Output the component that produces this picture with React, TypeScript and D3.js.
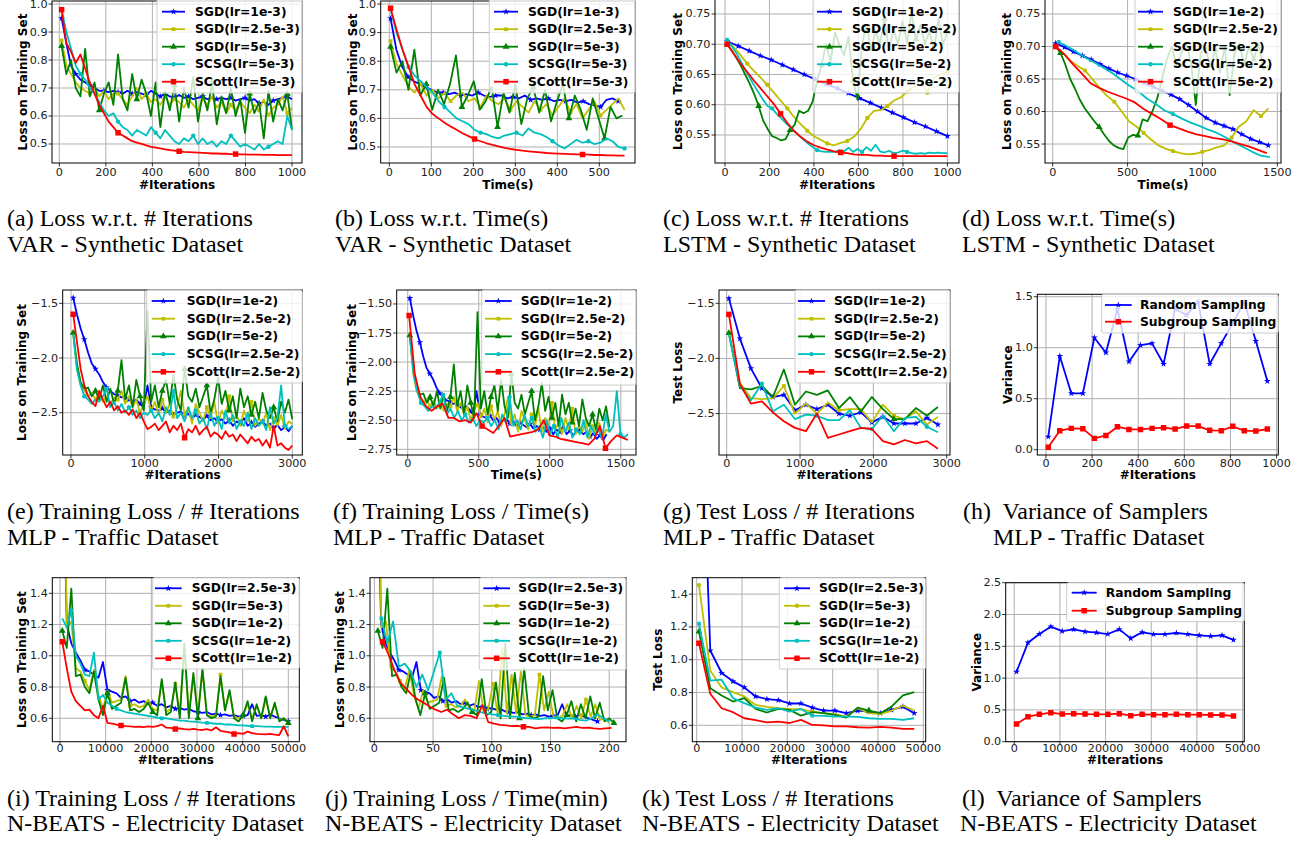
import React from 'react';
import * as d3 from 'd3';

const BLUE = '#0000ff', YEL = '#bfbf00', GRN = '#008000', CYN = '#00bfbf', RED = '#ff0000';
const lin = (a: number, b: number, n: number) => d3.range(n).map(i => a + (b - a) * i / (n - 1));

// ---------- (a) VAR, loss vs iterations ----------
const xA = lin(10, 1000, 50);
const aBlue = [0.95,0.86,0.78,0.75,0.73,0.72,0.71,0.70,0.69,0.69, 0.685,0.69,0.685,0.68,0.69,0.68,0.685,0.68,0.675,0.69, 0.68,0.67,0.68,0.67,0.665,0.675,0.665,0.67,0.66,0.665, 0.67,0.66,0.665,0.66,0.665,0.66,0.665,0.655,0.66,0.665, 0.655,0.66,0.645,0.65,0.64,0.655,0.66,0.665,0.67,0.66];
const aYel = [0.87,0.78,0.75,0.72,0.70,0.69,0.68,0.70,0.67,0.69, 0.66,0.68,0.68,0.66,0.64,0.67,0.70,0.66,0.68,0.65, 0.66,0.64,0.67,0.64,0.66,0.65,0.63,0.66,0.64,0.62, 0.66,0.64,0.67,0.63,0.65,0.61,0.64,0.62,0.65,0.63, 0.61,0.64,0.62,0.66,0.60,0.63,0.64,0.67,0.61,0.63];
const aGrn = [0.85,0.75,0.80,0.70,0.67,0.84,0.67,0.72,0.62,0.68, 0.72,0.64,0.82,0.66,0.62,0.75,0.66,0.73,0.68,0.60, 0.72,0.56,0.69,0.62,0.71,0.58,0.70,0.63,0.74,0.58, 0.68,0.62,0.72,0.57,0.67,0.61,0.70,0.60,0.66,0.54, 0.68,0.61,0.65,0.52,0.69,0.58,0.66,0.62,0.68,0.55];
const aCyn = [0.98,0.90,0.84,0.78,0.75,0.73,0.70,0.68,0.65,0.62, 0.60,0.61,0.58,0.56,0.55,0.53,0.55,0.54,0.53,0.56, 0.54,0.52,0.55,0.53,0.51,0.50,0.52,0.51,0.53,0.50, 0.52,0.50,0.51,0.49,0.51,0.50,0.53,0.51,0.49,0.50, 0.49,0.48,0.50,0.48,0.49,0.50,0.51,0.50,0.60,0.55];
const aRed = [0.98,0.86,0.83,0.79,0.82,0.77,0.72,0.68,0.64,0.61, 0.58,0.56,0.54,0.53,0.52,0.51,0.505,0.50,0.495,0.49, 0.487,0.484,0.481,0.478,0.476,0.474,0.472,0.471,0.47,0.469, 0.468,0.467,0.466,0.466,0.465,0.465,0.464,0.464,0.463,0.463, 0.462,0.462,0.462,0.461,0.461,0.461,0.46,0.46,0.46,0.46];

// ---------- (b) VAR, loss vs time ----------
const bBlue = [0.95,0.84,0.78,0.745,0.73,0.72,0.71,0.70,0.69,0.69, 0.685,0.69,0.68,0.685,0.68,0.69,0.68,0.675,0.68,0.68, 0.67,0.675,0.67,0.68,0.665,0.67,0.665,0.67,0.66,0.665, 0.66,0.665,0.655,0.66,0.65,0.645,0.64,0.665,0.67,0.66];
const bYel = [0.87,0.79,0.75,0.71,0.69,0.72,0.68,0.70,0.67,0.69, 0.66,0.68,0.69,0.66,0.67,0.64,0.68,0.66,0.65,0.67, 0.63,0.66,0.64,0.62,0.66,0.63,0.65,0.61,0.64,0.67, 0.62,0.65,0.60,0.63,0.66,0.61,0.63,0.65,0.67,0.63];
const bGrn = [0.85,0.76,0.80,0.70,0.84,0.68,0.72,0.63,0.70,0.65, 0.72,0.82,0.64,0.68,0.73,0.63,0.66,0.71,0.57,0.69, 0.62,0.72,0.58,0.67,0.71,0.62,0.70,0.59,0.66,0.72, 0.60,0.68,0.63,0.56,0.67,0.60,0.53,0.64,0.60,0.61];
const bCyn = [0.98,0.90,0.84,0.78,0.75,0.73,0.71,0.69,0.66,0.64, 0.62,0.60,0.59,0.58,0.56,0.55,0.545,0.535,0.53,0.54, 0.545,0.55,0.54,0.565,0.55,0.545,0.535,0.52,0.505,0.495, 0.51,0.525,0.515,0.52,0.51,0.515,0.53,0.52,0.50,0.495];
const bRed = [0.985,0.91,0.84,0.78,0.72,0.68,0.64,0.615,0.60,0.585, 0.572,0.56,0.548,0.538,0.528,0.52,0.513,0.507,0.502,0.497, 0.493,0.49,0.487,0.485,0.483,0.481,0.479,0.478,0.477,0.476, 0.475,0.474,0.474,0.473,0.472,0.472,0.471,0.471,0.47,0.47];

// ---------- (c) LSTM, loss vs iterations ----------
const cBlue = [0.705,0.697,0.689,0.681,0.674,0.666,0.658,0.650,0.642,0.634,0.627,0.619,0.611,0.603,0.595,0.587,0.579,0.571,0.564,0.556,0.548];
const cYel = [0.705,0.695,0.682,0.668,0.656,0.645,0.633,0.620,0.607,0.594, 0.580,0.568,0.557,0.548,0.542,0.536,0.533,0.537,0.540,0.547, 0.560,0.578,0.590,0.591,0.598,0.607,0.612,0.622,0.630,0.640, 0.620,0.645,0.650,0.655];
const cGrn = [0.700,0.690,0.678,0.665,0.650,0.635,0.618,0.598,0.574,0.560, 0.548,0.545,0.541,0.543,0.558,0.567,0.590,0.586,0.590,0.605, 0.640,0.665,0.700,0.672,0.720,0.698,0.682,0.712,0.640,0.608, 0.700,0.732,0.690,0.722,0.700,0.742,0.690,0.725,0.700,0.738, 0.702,0.752,0.708,0.732,0.700,0.722,0.690,0.742,0.700,0.720];
const cCyn = [0.707,0.697,0.686,0.672,0.658,0.645,0.632,0.620,0.608,0.598, 0.594,0.585,0.578,0.570,0.563,0.556,0.549,0.542,0.536,0.530, 0.525,0.523,0.522,0.522,0.522,0.525,0.523,0.529,0.522,0.527, 0.522,0.530,0.524,0.534,0.523,0.521,0.524,0.520,0.521,0.524, 0.522,0.520,0.519,0.520,0.519,0.521,0.520,0.521,0.520,0.520];
const cRed = [0.700,0.684,0.668,0.654,0.640,0.627,0.614,0.601,0.585,0.570, 0.557,0.547,0.539,0.533,0.529,0.526,0.523,0.521,0.520,0.518, 0.517,0.517,0.516,0.516,0.515,0.515,0.515,0.515,0.515,0.515, 0.515,0.515,0.515,0.515];

// ---------- (d) LSTM, loss vs time ----------
const dBlue = [0.705,0.699,0.692,0.686,0.680,0.673,0.666,0.660,0.655,0.650, 0.644,0.638,0.632,0.626,0.619,0.610,0.600,0.590,0.583,0.578, 0.573,0.565,0.558,0.553,0.548];
const dYel = [0.700,0.690,0.678,0.670,0.663,0.650,0.636,0.624,0.615,0.600, 0.585,0.577,0.567,0.557,0.548,0.543,0.539,0.536,0.534,0.535, 0.538,0.541,0.545,0.548,0.560,0.577,0.585,0.602,0.593,0.605];
const dGrn = [0.700,0.690,0.672,0.650,0.635,0.618,0.605,0.595,0.585,0.576, 0.565,0.555,0.548,0.544,0.542,0.560,0.564,0.563,0.588,0.585, 0.600,0.620,0.650,0.680,0.700,0.672,0.690,0.705,0.675,0.610, 0.690,0.700,0.668,0.695,0.660,0.700,0.625,0.690,0.705,0.672, 0.700,0.680,0.705,0.665,0.670];
const dCyn = [0.707,0.700,0.692,0.683,0.676,0.668,0.660,0.650,0.640,0.632, 0.620,0.612,0.602,0.596,0.589,0.583,0.578,0.572,0.567,0.560, 0.552,0.545,0.538,0.532,0.530];
const dRed = [0.700,0.688,0.672,0.658,0.643,0.636,0.630,0.625,0.620,0.614, 0.604,0.596,0.588,0.579,0.574,0.569,0.565,0.562,0.559,0.557, 0.554,0.550,0.546,0.541,0.536];

// ---------- (e)/(f) MLP training loss ----------
const xE = lin(30, 3000, 60);
const eBlue = [-1.45,-1.60,-1.73,-1.83,-1.95,-2.05,-2.10,-2.15,-2.22,-2.27, -2.30,-2.33,-2.34,-2.36,-2.35,-2.38,-2.40,-2.38,-2.42,-2.45, -2.25,-2.45,-2.47,-2.48,-2.46,-2.50,-2.48,-2.52,-2.50,-2.49, -2.53,-2.51,-2.55,-2.52,-2.54,-2.56,-2.53,-2.57,-2.55,-2.58, -2.56,-2.60,-2.57,-2.62,-2.58,-2.60,-2.55,-2.62,-2.59,-2.63, -2.60,-2.58,-2.62,-2.60,-2.64,-2.61,-2.66,-2.63,-2.67,-2.62];
const eYel = [-1.77,-2.10,-2.25,-2.30,-2.35,-2.32,-2.38,-2.33,-2.40,-2.35, -2.42,-2.36,-2.38,-2.30,-2.42,-2.35,-2.45,-2.38,-2.50,-2.42, -2.35,-2.48,-2.40,-2.52,-2.38,-2.50,-2.42,-2.55,-2.45,-2.30, -2.52,-2.45,-2.60,-2.42,-2.50,-2.58,-2.45,-2.55,-2.40,-2.60, -2.48,-2.55,-2.35,-2.58,-2.52,-2.62,-2.48,-2.58,-2.40,-2.62, -2.55,-2.60,-2.50,-2.66,-2.55,-2.62,-2.52,-2.65,-2.58,-2.60];
const eGrn = [-1.77,-2.05,-2.22,-2.28,-2.27,-2.35,-2.30,-2.38,-2.25,-2.40, -2.28,-2.42,-2.30,-2.02,-2.38,-2.25,-2.45,-2.20,-2.35,-2.48, -1.57,-2.40,-2.25,-2.45,-2.30,-2.20,-2.42,-2.15,-2.38,-2.48, -2.10,-2.35,-2.40,-2.28,-2.45,-2.35,-2.25,-2.50,-2.38,-2.18, -2.42,-2.30,-2.48,-2.35,-2.55,-2.28,-2.45,-2.35,-2.52,-2.40, -2.55,-2.32,-2.48,-2.55,-2.45,-2.58,-2.40,-2.50,-2.38,-2.56];
const eCyn = [-1.78,-2.10,-2.25,-2.35,-2.38,-2.42,-2.38,-2.40,-2.35,-2.28, -2.45,-2.40,-2.48,-2.42,-2.50,-2.45,-2.52,-2.48,-2.55,-2.50, -2.52,-2.48,-2.55,-2.50,-2.58,-2.45,-2.52,-2.30,-2.55,-2.50, -2.58,-2.45,-2.55,-2.48,-2.60,-2.55,-2.65,-2.50,-2.62,-2.55, -2.65,-2.48,-2.60,-2.52,-2.65,-2.58,-2.62,-2.50,-2.65,-2.55, -2.62,-2.58,-2.66,-2.45,-2.60,-2.55,-2.25,-2.62,-2.65,-2.62];
const eRed = [-1.60,-1.85,-2.10,-2.25,-2.35,-2.40,-2.44,-2.30,-2.38,-2.45, -2.40,-2.48,-2.44,-2.50,-2.48,-2.52,-2.47,-2.55,-2.50,-2.58, -2.65,-2.63,-2.60,-2.66,-2.62,-2.58,-2.68,-2.62,-2.66,-2.60, -2.73,-2.65,-2.68,-2.62,-2.70,-2.66,-2.63,-2.72,-2.68,-2.70, -2.74,-2.67,-2.72,-2.70,-2.76,-2.70,-2.74,-2.78,-2.72,-2.76, -2.74,-2.80,-2.75,-2.82,-2.62,-2.80,-2.78,-2.82,-2.84,-2.80];
const fRed = [-1.60,-2.10,-2.30,-2.38,-2.42,-2.38,-2.36,-2.48,-2.48,-2.51, -2.50,-2.52,-2.44,-2.55,-2.58,-2.61,-2.55,-2.48,-2.64,-2.63, -2.62,-2.61,-2.60,-2.58,-2.50,-2.63,-2.64,-2.66,-2.67,-2.68, -2.69,-2.70,-2.71,-2.66,-2.55,-2.74,-2.68,-2.63,-2.65,-2.67];

// ---------- (g) MLP test loss ----------
const xG = lin(30, 2880, 20);
const gBlue = [-1.455,-1.82,-2.09,-2.27,-2.35,-2.33,-2.47,-2.42,-2.46,-2.42,-2.50,-2.52,-2.49,-2.58,-2.53,-2.59,-2.59,-2.59,-2.54,-2.60];
const gYel = [-1.77,-2.22,-2.36,-2.37,-2.36,-2.25,-2.50,-2.41,-2.50,-2.40,-2.47,-2.46,-2.46,-2.58,-2.42,-2.52,-2.55,-2.48,-2.60,-2.53];
const gGrn = [-1.77,-2.27,-2.28,-2.25,-2.35,-2.10,-2.42,-2.30,-2.33,-2.29,-2.45,-2.35,-2.48,-2.35,-2.46,-2.55,-2.55,-2.45,-2.52,-2.44];
const gCyn = [-1.78,-2.25,-2.38,-2.23,-2.48,-2.42,-2.55,-2.51,-2.52,-2.56,-2.56,-2.47,-2.63,-2.64,-2.52,-2.66,-2.54,-2.53,-2.62,-2.67];
const gRed = [-1.60,-2.23,-2.41,-2.39,-2.49,-2.57,-2.63,-2.66,-2.50,-2.72,-2.69,-2.66,-2.63,-2.64,-2.75,-2.78,-2.74,-2.77,-2.75,-2.82];

// ---------- (h) MLP variance ----------
const xH = lin(10, 960, 20);
const hRand = [0.127,0.918,0.552,0.552,1.098,0.951,1.379,0.863,1.026,1.042,0.84,1.38,1.32,1.45,0.84,1.042,1.24,1.45,1.065,0.673];
const hSub = [0.023,0.186,0.209,0.206,0.111,0.14,0.225,0.199,0.199,0.209,0.216,0.203,0.232,0.232,0.19,0.186,0.229,0.186,0.183,0.203];

// ---------- (i)/(j) N-BEATS training loss ----------
const xI = lin(500, 50000, 51);
const iBlue = [2.5,1.20,1.08,1.02,0.97,0.91,0.90,0.88,0.86,0.96, 0.78,0.77,0.76,0.73,0.74,0.71,0.72,0.70,0.71,0.69, 0.70,0.68,0.69,0.67,0.68,0.66,0.665,0.655,0.66,0.645, 0.64,0.635,0.64,0.625,0.63,0.62,0.625,0.615,0.62,0.61, 0.615,0.62,0.69,0.615,0.62,0.61,0.625,0.61,0.60,0.59,0.58];
const iYel = [3.0,1.18,1.22,0.92,0.90,0.84,0.78,0.91,0.75,0.66, 0.78,0.70,0.71,0.72,0.87,0.68,0.69,0.67,0.68,0.72, 0.66,0.65,0.84,0.64,0.66,0.82,0.63,1.05,0.63,0.88, 0.63,0.90,0.62,0.61,0.62,0.88,0.65,0.77,0.61,0.60, 0.62,0.69,0.60,0.68,0.60,0.72,0.61,0.69,0.59,0.60,0.57];
const iGrn = [1.16,1.05,1.43,0.87,0.88,0.80,0.76,0.90,0.72,0.62, 0.76,0.66,0.68,0.70,0.86,0.65,0.66,0.64,0.66,0.70, 0.64,0.62,0.85,0.62,0.64,0.83,0.60,1.08,0.60,0.89, 0.60,0.92,0.62,0.60,0.61,0.87,0.65,0.78,0.60,0.58, 0.62,0.71,0.58,0.69,0.60,0.74,0.60,0.70,0.58,0.60,0.57];
const iCyn = [1.24,1.18,1.29,1.00,0.95,0.88,0.87,1.02,0.72,0.75, 0.70,0.68,0.66,0.65,0.64,0.635,0.63,0.625,0.62,0.615, 0.61,0.605,0.60,0.60,0.595,0.59,0.585,0.585,0.58,0.578, 0.575,0.572,0.57,0.568,0.565,0.565,0.56,0.56,0.558,0.555, 0.555,0.552,0.55,0.55,0.548,0.547,0.546,0.545,0.545,0.545,0.545];
const iRed = [1.09,0.92,0.77,0.71,0.68,0.65,0.655,0.62,0.60,0.68, 0.57,0.565,0.56,0.553,0.55,0.548,0.545,0.547,0.543,0.548, 0.545,0.55,0.56,0.54,0.538,0.532,0.535,0.53,0.528,0.532, 0.527,0.525,0.53,0.522,0.542,0.52,0.515,0.51,0.50,0.505, 0.50,0.515,0.505,0.50,0.498,0.497,0.50,0.495,0.492,0.549,0.484];
const jCyn = [1.24,1.08,1.22,0.93,0.95,0.90,0.80,0.88,0.78,0.90, 1.02,0.72,0.76,0.68,0.67,0.66,0.65,0.64,0.63,0.625, 0.62,0.615,0.61,0.61,0.605,0.60,0.598,0.595,0.60,0.60, 0.605,0.60,0.598,0.60,0.59,0.585,0.60,0.625,0.60,0.58];
const jRed = [1.09,1.01,0.91,0.83,0.79,0.75,0.72,0.70,0.675,0.655, 0.64,0.655,0.625,0.60,0.62,0.615,0.60,0.685,0.575,0.565, 0.558,0.555,0.55,0.552,0.545,0.545,0.535,0.54,0.542,0.538, 0.54,0.535,0.54,0.545,0.538,0.54,0.535,0.532,0.535,0.538];

// ---------- (k) N-BEATS test loss ----------
const xK = lin(500, 48000, 20);
const kBlue = [2.97,1.056,0.919,0.868,0.831,0.776,0.76,0.753,0.733,0.733,0.708,0.69,0.69,0.674,0.69,0.684,0.674,0.694,0.714,0.674];
const kYel = [1.455,0.933,0.831,0.802,0.776,0.724,0.712,0.704,0.698,0.698,0.684,0.674,0.668,0.653,0.704,0.674,0.668,0.69,0.72,0.69];
const kGrn = [1.171,0.826,0.782,0.745,0.766,0.70,0.678,0.70,0.694,0.659,0.68,0.674,0.664,0.647,0.708,0.69,0.674,0.714,0.782,0.802];
const kCyn = [1.22,0.872,0.878,0.766,0.735,0.708,0.694,0.704,0.684,0.70,0.659,0.657,0.653,0.653,0.651,0.643,0.639,0.639,0.633,0.643];
const kRed = [1.10,0.792,0.704,0.68,0.643,0.631,0.618,0.622,0.614,0.633,0.602,0.60,0.594,0.594,0.588,0.586,0.59,0.586,0.578,0.578];

// ---------- (l) N-BEATS variance ----------
const lRand = [1.10,1.557,1.693,1.808,1.74,1.766,1.73,1.714,1.693,1.766,1.625,1.72,1.69,1.69,1.709,1.69,1.672,1.66,1.672,1.6];
const lSub = [0.278,0.393,0.43,0.456,0.435,0.44,0.435,0.43,0.43,0.44,0.409,0.43,0.425,0.425,0.43,0.425,0.425,0.42,0.42,0.404];

// ---------- tick values ----------
const tk = {
  x1000: [0, 200, 400, 600, 800, 1000],
  x500: [0, 100, 200, 300, 400, 500],
  x1500: [0, 500, 1000, 1500],
  x3000: [0, 1000, 2000, 3000],
  x50k: [0, 10000, 20000, 30000, 40000, 50000],
  x200: [0, 50, 100, 150, 200],
  yVar1: [0.5, 0.6, 0.7, 0.8, 0.9, 1.0],
  yLstm: [0.55, 0.6, 0.65, 0.7, 0.75],
  yMlp: [-2.5, -2.0, -1.5],
  yMlpF: [-2.75, -2.5, -2.25, -2.0, -1.75, -1.5],
  yVarH: [0, 0.5, 1.0, 1.5],
  yNb: [0.6, 0.8, 1.0, 1.2, 1.4],
  yVarL: [0, 0.5, 1.0, 1.5, 2.0, 2.5],
};

interface S { name: string; color: string; sym: string; x: number[]; y: number[]; every?: number; off?: number; marks?: number[] }
const mk = (name: string, color: string, sym: string, x: number[], y: number[], o: Partial<S> = {}): S => ({ name, color, sym, x, y, ...o });

const SYM: Record<string, any> = { star: d3.symbolStar, sq: d3.symbolSquare, tri: d3.symbolTriangle, circ: d3.symbolCircle, bsq: d3.symbolSquare };
const SIZE: Record<string, number> = { star: 14, sq: 14, tri: 20, circ: 15, bsq: 30 };

interface Leg { x0: number; y0: number; x1: number; y1: number; l0: number; l1: number; tx: number; r0: number; rs: number }
interface P { id: string; L: number; T: number; R: number; B: number; xd: [number, number]; yd: [number, number]; xt: number[]; yt: number[]; yf: string; xlab: string; ylab: string; ylx: number; xly: number; tdy: number; series: S[]; leg: Leg }

const legR1 = (x0: number, x1: number, l0: number, l1: number, tx: number): Leg => ({ x0, y0: -1, x1, y1: 93, l0, l1, tx, r0: 11.7, rs: 17.5 });
const legR2 = (x0: number, x1: number, y1: number, l0: number, l1: number, tx: number): Leg => ({ x0, y0: 290, x1, y1, l0, l1, tx, r0: 301, rs: 17.7 });
const legR3 = (x0: number, x1: number, y1: number, l0: number, l1: number, tx: number): Leg => ({ x0, y0: 577.7, x1, y1, l0, l1, tx, r0: 588.3, rs: 17.5 });

const panels: P[] = [
  { id: 'a', L: 52, T: 1, R: 302, B: 163, xd: [-31.4, 1043], yd: [0.432, 1.011], xt: tk.x1000, yt: tk.yVar1, yf: '.1f', xlab: '#Iterations', ylab: 'Loss on Training Set', ylx: 23, xly: 184.5, tdy: 9.5,
    leg: legR1(157, 302, 162, 185, 195),
    series: [
      mk('SGD(lr=1e-3)', BLUE, 'star', xA, aBlue, { every: 3 }),
      mk('SGD(lr=2.5e-3)', YEL, 'sq', xA, aYel, { every: 6 }),
      mk('SGD(lr=5e-3)', GRN, 'tri', xA, aGrn, { every: 8 }),
      mk('SCSG(lr=5e-3)', CYN, 'circ', xA, aCyn, { every: 8, off: 4 }),
      mk('SCott(lr=5e-3)', RED, 'bsq', xA, aRed, { marks: [0, 12, 25, 37] }),
    ] },
  { id: 'b', L: 380.7, T: 1, R: 635, B: 163, xd: [-20.5, 585], yd: [0.444, 1.0105], xt: tk.x500, yt: tk.yVar1, yf: '.1f', xlab: 'Time(s)', ylab: 'Loss on Training Set', ylx: 353, xly: 184.5, tdy: 9.5,
    leg: legR1(489.3, 635, 494, 518, 528),
    series: [
      mk('SGD(lr=1e-3)', BLUE, 'star', lin(3, 545, 40), bBlue, { every: 3 }),
      mk('SGD(lr=2.5e-3)', YEL, 'sq', lin(3, 560, 40), bYel, { every: 5 }),
      mk('SGD(lr=5e-3)', GRN, 'tri', lin(3, 555, 40), bGrn, { every: 6 }),
      mk('SCSG(lr=5e-3)', CYN, 'circ', lin(3, 560, 40), bCyn, { every: 6, off: 3 }),
      mk('SCott(lr=5e-3)', RED, 'bsq', lin(3, 560, 40), bRed, { marks: [0, 14, 32] }),
    ] },
  { id: 'c', L: 715, T: -2, R: 959, B: 163, xd: [-44.8, 1052], yd: [0.5037, 0.7764], xt: tk.x1000, yt: tk.yLstm, yf: '.2f', xlab: '#Iterations', ylab: 'Loss on Training Set', ylx: 678, xly: 184.5, tdy: 9.5,
    leg: legR1(813, 959, 817, 842, 852),
    series: [
      mk('SGD(lr=1e-2)', BLUE, 'star', lin(10, 1000, 21), cBlue, { every: 1 }),
      mk('SGD(lr=2.5e-2)', YEL, 'circ', lin(10, 1000, 34), cYel, { every: 3 }),
      mk('SGD(lr=5e-2)', GRN, 'tri', xA, cGrn, { every: 7 }),
      mk('SCSG(lr=5e-2)', CYN, 'circ', xA, cCyn, { every: 10 }),
      mk('SCott(lr=5e-2)', RED, 'bsq', lin(10, 1000, 34), cRed, { marks: [0, 8, 17, 25] }),
    ] },
  { id: 'd', L: 1045, T: -2, R: 1281, B: 163, xd: [-51.4, 1524.7], yd: [0.5208, 0.7746], xt: tk.x1500, yt: tk.yLstm, yf: '.2f', xlab: 'Time(s)', ylab: 'Loss on Training Set', ylx: 1006.7, xly: 184.5, tdy: 9.5,
    leg: legR1(1135, 1281, 1138, 1163, 1173),
    series: [
      mk('SGD(lr=1e-2)', BLUE, 'star', lin(20, 1440, 25), dBlue, { every: 1 }),
      mk('SGD(lr=2.5e-2)', YEL, 'sq', lin(20, 1440, 30), dYel, { every: 4, off: 4 }),
      mk('SGD(lr=5e-2)', GRN, 'tri', lin(20, 1440, 45), dGrn, { every: 8, off: 1 }),
      mk('SCSG(lr=5e-2)', CYN, 'circ', lin(40, 1450, 25), dCyn, { every: 13 }),
      mk('SCott(lr=5e-2)', RED, 'bsq', lin(20, 1430, 25), dRed, { every: 13 }),
    ] },
  { id: 'e', L: 62.7, T: 290, R: 302.3, B: 455, xd: [-112.5, 3136], yd: [-2.887, -1.378], xt: tk.x3000, yt: tk.yMlp, yf: '.1f', xlab: '#Iterations', ylab: 'Loss on Training Set', ylx: 21.7, xly: 475, tdy: 8.5,
    leg: legR2(146.7, 302.3, 383, 151.7, 175, 186.7),
    series: [
      mk('SGD(lr=1e-2)', BLUE, 'star', xE, eBlue, { every: 3 }),
      mk('SGD(lr=2.5e-2)', YEL, 'sq', xE, eYel, { every: 6 }),
      mk('SGD(lr=5e-2)', GRN, 'tri', xE, eGrn, { every: 6 }),
      mk('SCSG(lr=2.5e-2)', CYN, 'circ', xE, eCyn, { every: 6, off: 3 }),
      mk('SCott(lr=2.5e-2)', RED, 'bsq', xE, eRed, { every: 30 }),
    ] },
  { id: 'f', L: 396.7, T: 290, R: 636, B: 455, xd: [-77.5, 1607], yd: [-2.799, -1.38], xt: tk.x1500, yt: tk.yMlpF, yf: '.2f', xlab: 'Time(s)', ylab: 'Loss on Training Set', ylx: 351.7, xly: 475, tdy: 8.5,
    leg: legR2(481.7, 636, 385, 485, 511.7, 520.7),
    series: [
      mk('SGD(lr=1e-2)', BLUE, 'star', lin(15, 1400, 60), eBlue, { every: 3 }),
      mk('SGD(lr=2.5e-2)', YEL, 'sq', lin(15, 1420, 60), eYel, { every: 6 }),
      mk('SGD(lr=5e-2)', GRN, 'tri', lin(15, 1420, 60), eGrn, { every: 6 }),
      mk('SCSG(lr=2.5e-2)', CYN, 'circ', lin(15, 1550, 60), eCyn, { every: 6, off: 3 }),
      mk('SCott(lr=2.5e-2)', RED, 'bsq', lin(10, 1550, 40), fRed, { marks: [0, 13, 35] }),
    ] },
  { id: 'g', L: 719, T: 290, R: 950, B: 455, xd: [-105, 3045], yd: [-2.876, -1.379], xt: tk.x3000, yt: tk.yMlp, yf: '.1f', xlab: '#Iterations', ylab: 'Test Loss', ylx: 678, xly: 475, tdy: 8.5,
    leg: legR2(795, 950, 383, 798, 825, 834),
    series: [
      mk('SGD(lr=1e-2)', BLUE, 'star', xG, gBlue, { every: 1 }),
      mk('SGD(lr=2.5e-2)', YEL, 'sq', xG, gYel, { every: 5 }),
      mk('SGD(lr=5e-2)', GRN, 'tri', xG, gGrn, { every: 15 }),
      mk('SCSG(lr=2.5e-2)', CYN, 'circ', xG, gCyn, { every: 5, off: 3 }),
      mk('SCott(lr=2.5e-2)', RED, 'bsq', xG, gRed, { every: 20 }),
    ] },
  { id: 'h', L: 1037.3, T: 294.3, R: 1278.3, B: 455, xd: [-37.5, 1007.5], yd: [-0.052, 1.5235], xt: tk.x1000, yt: tk.yVarH, yf: '.1f', xlab: '#Iterations', ylab: 'Variance', ylx: 1007.7, xly: 475, tdy: 8.5,
    leg: { x0: 1101.7, y0: 294.3, x1: 1278.3, y1: 333, l0: 1105, l1: 1131.7, tx: 1140, r0: 305, rs: 16.7 },
    series: [
      mk('Random Sampling', BLUE, 'star', xH, hRand, { every: 1 }),
      mk('Subgroup Sampling', RED, 'bsq', xH, hSub, { every: 1 }),
    ] },
  { id: 'i', L: 52.3, T: 577.7, R: 299.3, B: 741.7, xd: [-1686, 52409], yd: [0.45, 1.5], xt: tk.x50k, yt: tk.yNb, yf: '.1f', xlab: '#Iterations', ylab: 'Loss on Training Set', ylx: 21.7, xly: 760, tdy: 7,
    leg: legR3(152.7, 299.3, 669, 155, 181.7, 191.7),
    series: [
      mk('SGD(lr=2.5e-3)', BLUE, 'star', xI, iBlue, { every: 5 }),
      mk('SGD(lr=5e-3)', YEL, 'sq', xI, iYel, { every: 10, off: 5 }),
      mk('SGD(lr=1e-2)', GRN, 'tri', xI, iGrn, { every: 10 }),
      mk('SCSG(lr=1e-2)', CYN, 'sq', xI, iCyn, { every: 10, off: 2 }),
      mk('SCott(lr=1e-2)', RED, 'bsq', xI, iRed, { marks: [0, 13, 25, 38] }),
    ] },
  { id: 'j', L: 370, T: 577.7, R: 626, B: 741.7, xd: [-3.7, 214.3], yd: [0.45, 1.5], xt: tk.x200, yt: tk.yNb, yf: '.1f', xlab: 'Time(min)', ylab: 'Loss on Training Set', ylx: 340, xly: 760, tdy: 7,
    leg: legR3(479.3, 626, 670, 483.3, 510, 518.3),
    series: [
      mk('SGD(lr=2.5e-3)', BLUE, 'star', lin(2, 190, 51), iBlue, { every: 5 }),
      mk('SGD(lr=5e-3)', YEL, 'sq', lin(2, 200, 51), iYel, { every: 10, off: 5 }),
      mk('SGD(lr=1e-2)', GRN, 'tri', lin(3, 204, 51), iGrn, { every: 10 }),
      mk('SCSG(lr=1e-2)', CYN, 'sq', lin(6, 200, 40), jCyn, { every: 10 }),
      mk('SCott(lr=1e-2)', RED, 'bsq', lin(7, 202, 40), jRed, { marks: [0, 24] }),
    ] },
  { id: 'k', L: 692.3, T: 577.7, R: 925.7, B: 741.7, xd: [-971, 50530], yd: [0.5, 1.5], xt: tk.x50k, yt: tk.yNb, yf: '.1f', xlab: '#Iterations', ylab: 'Test Loss', ylx: 658, xly: 760, tdy: 7,
    leg: legR3(779.3, 925.7, 669, 784, 810, 819),
    series: [
      mk('SGD(lr=2.5e-3)', BLUE, 'star', xK, kBlue, { every: 1 }),
      mk('SGD(lr=5e-3)', YEL, 'circ', xK, kYel, { every: 10 }),
      mk('SGD(lr=1e-2)', GRN, 'tri', xK, kGrn, { every: 15 }),
      mk('SCSG(lr=1e-2)', CYN, 'sq', xK, kCyn, { every: 10 }),
      mk('SCott(lr=1e-2)', RED, 'bsq', xK, kRed, { every: 20 }),
    ] },
  { id: 'l', L: 1005.7, T: 582.7, R: 1244.3, B: 741.7, xd: [-1875, 50375], yd: [0, 2.5], xt: tk.x50k, yt: tk.yVarL, yf: '.1f', xlab: '#Iterations', ylab: 'Variance', ylx: 976.7, xly: 760, tdy: 7,
    leg: { x0: 1066.7, y0: 582.7, x1: 1244.3, y1: 621.7, l0: 1071.7, l1: 1096.7, tx: 1105.7, r0: 592.7, rs: 18 },
    series: [
      mk('Random Sampling', BLUE, 'star', xK, lRand, { every: 1 }),
      mk('Subgroup Sampling', RED, 'bsq', xK, lSub, { every: 1 }),
    ] },
];

const captions: [string, number, number][] = [
  ['(a) Loss w.r.t. # Iterations', 7, 226], ['VAR - Synthetic Dataset', 7, 252],
  ['(b) Loss w.r.t. Time(s)', 335, 226], ['VAR - Synthetic Dataset', 335, 252],
  ['(c) Loss w.r.t. # Iterations', 663, 226], ['LSTM - Synthetic Dataset', 663, 252],
  ['(d) Loss w.r.t. Time(s)', 962, 226], ['LSTM - Synthetic Dataset', 962, 252],
  ['(e) Training Loss / # Iterations', 7, 519], ['MLP - Traffic Dataset', 7, 545],
  ['(f) Training Loss / Time(s)', 333, 519], ['MLP - Traffic Dataset', 333, 545],
  ['(g) Test Loss / # Iterations', 663, 519], ['MLP - Traffic Dataset', 663, 545],
  ['(h)  Variance of Samplers', 963, 519], ['MLP - Traffic Dataset', 993, 545],
  ['(i) Training Loss / # Iterations', 7, 806], ['N-BEATS - Electricity Dataset', 7, 831],
  ['(j) Training Loss / Time(min)', 325, 806], ['N-BEATS - Electricity Dataset', 325, 831],
  ['(k) Test Loss / # Iterations', 642, 806], ['N-BEATS - Electricity Dataset', 642, 831],
  ['(l)  Variance of Samplers', 962, 806], ['N-BEATS - Electricity Dataset', 960, 831],
];

const SANS = 'DejaVu Sans, sans-serif';

function markIdx(s: S): number[] {
  if (s.marks) return s.marks;
  const e = s.every ?? 1, o = s.off ?? 0;
  const r: number[] = [];
  for (let i = o; i < s.x.length; i += e) r.push(i);
  return r;
}

function Panel({ p }: { p: P }) {
  const x = d3.scaleLinear().domain(p.xd).range([p.L, p.R]);
  const y = d3.scaleLinear().domain(p.yd).range([p.B, p.T]);
  const yfmt = d3.format(p.yf);
  const clip = `clip-${p.id}`;
  const sym = (s: string) => d3.symbol().type(SYM[s]).size(SIZE[s])() as string;
  const lg = p.leg;
  return (
    <g>
      <defs>
        <clipPath id={clip}><rect x={p.L} y={p.T} width={p.R - p.L} height={p.B - p.T} /></clipPath>
      </defs>
      <rect x={p.L} y={p.T} width={p.R - p.L} height={p.B - p.T} fill="#fff" />
      {p.xt.map(v => <line key={'gx' + v} x1={x(v)} x2={x(v)} y1={p.T} y2={p.B} stroke="#b0b0b0" strokeWidth={1} />)}
      {p.yt.map(v => <line key={'gy' + v} x1={p.L} x2={p.R} y1={y(v)} y2={y(v)} stroke="#b0b0b0" strokeWidth={1} />)}
      <g clipPath={`url(#${clip})`}>
        {p.series.map(s => {
          const pts = s.x.map((xv, i) => [x(xv), y(s.y[i])] as [number, number]);
          const path = d3.line()(pts) as string;
          return (
            <g key={s.name}>
              <path d={path} fill="none" stroke={s.color} strokeWidth={1.8} strokeLinejoin="round" />
              {markIdx(s).map(i => <path key={i} d={sym(s.sym)} transform={`translate(${pts[i][0]},${pts[i][1]})`} fill={s.color} />)}
            </g>
          );
        })}
      </g>
      <rect x={p.L} y={p.T} width={p.R - p.L} height={p.B - p.T} fill="none" stroke="#000" strokeWidth={1} />
      {p.xt.map(v => (
        <g key={'tx' + v}>
          <line x1={x(v)} x2={x(v)} y1={p.B} y2={p.B + 3.5} stroke="#000" strokeWidth={0.8} />
          <text x={x(v)} y={p.B + p.tdy} textAnchor="middle" dominantBaseline="central" fontFamily={SANS} fontSize={11.2} fill="#222">{String(v)}</text>
        </g>
      ))}
      {p.yt.map(v => (
        <g key={'ty' + v}>
          <line x1={p.L - 3.5} x2={p.L} y1={y(v)} y2={y(v)} stroke="#000" strokeWidth={0.8} />
          <text x={p.L - 4.5} y={y(v)} textAnchor="end" dominantBaseline="central" fontFamily={SANS} fontSize={11.2} fill="#222">{yfmt(v)}</text>
        </g>
      ))}
      <text x={(p.L + p.R) / 2} y={p.xly} textAnchor="middle" dominantBaseline="central" fontFamily={SANS} fontWeight="bold" fontSize={12}>{p.xlab}</text>
      <text transform={`translate(${p.ylx},${(Math.max(p.T, 0) + p.B) / 2}) rotate(-90)`} textAnchor="middle" dominantBaseline="central" fontFamily={SANS} fontWeight="bold" fontSize={12}>{p.ylab}</text>
      <rect x={lg.x0} y={lg.y0} width={lg.x1 - lg.x0} height={lg.y1 - lg.y0} rx={2} fill="#fff" fillOpacity={0.8} stroke="#cccccc" strokeWidth={1} />
      {p.series.map((s, i) => {
        const ry = lg.r0 + i * lg.rs;
        return (
          <g key={'lg' + s.name}>
            <line x1={lg.l0} x2={lg.l1} y1={ry} y2={ry} stroke={s.color} strokeWidth={1.8} />
            <path d={sym(s.sym)} transform={`translate(${(lg.l0 + lg.l1) / 2},${ry})`} fill={s.color} />
            <text x={lg.tx} y={ry} dominantBaseline="central" fontFamily={SANS} fontWeight="bold" fontSize={12.3}>{s.name}</text>
          </g>
        );
      })}
    </g>
  );
}

export default function App() {
  return (
    <svg width={1305} height={841} style={{ position: 'absolute', left: 0, top: 0, background: '#fff' }}>
      <rect x={0} y={0} width={1305} height={841} fill="#fff" />
      {panels.map(p => <Panel key={p.id} p={p} />)}
      {captions.map(([t, cx, cy], i) => (
        <text key={i} x={cx} y={cy} fontFamily="Liberation Serif, Times New Roman, serif" fontSize={24} fill="#000" style={{ whiteSpace: 'pre' }}>{t}</text>
      ))}
    </svg>
  );
}
